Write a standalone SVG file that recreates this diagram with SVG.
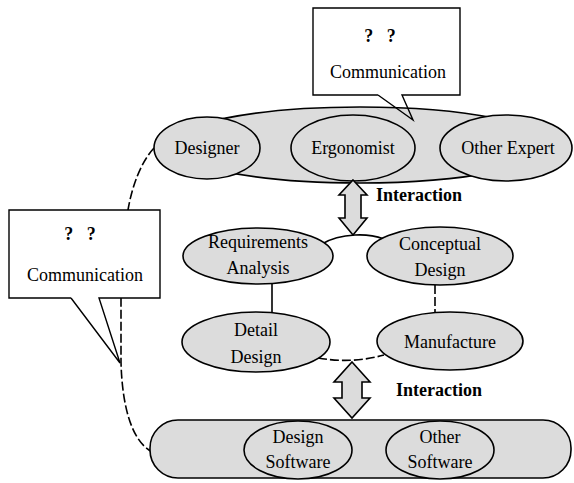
<svg xmlns="http://www.w3.org/2000/svg" width="574" height="483" viewBox="0 0 574 483">
  <style>
    .shape { fill: #dcdcdc; stroke: #000; stroke-width: 1.6; }
    .box { fill: #fff; stroke: none; }
    .outline { fill: none; stroke: #000; stroke-width: 1.4; }
    .link { fill: none; stroke: #000; stroke-width: 1.6; }
    .dash { fill: none; stroke: #000; stroke-width: 1.6; stroke-dasharray: 9 3; }
    text { font-family: "Liberation Serif", "Times New Roman", serif; font-size: 18px; fill: #000; text-anchor: middle; }
    .bold { font-weight: bold; }
    .q { font-weight: bold; word-spacing: 9px; }
  </style>

  <rect width="574" height="483" fill="#fff"/>

  <!-- connectors -->
  <g id="connectors">
    <!-- expert group to software group, passing through the left callout -->
    <path class="dash" d="M154,148 C141,162 132,186 128,210 L121,298 L121,362 C122,402 130,440 152,452"/>
    <!-- design loop -->
    <path class="link" d="M322,244 Q335,236 355,235 Q370,234 384,239"/>
    <path class="link" d="M272,284 L272,313"/>
    <path class="dash" d="M435,285 L435,312"/>
    <path class="dash" d="M318,358 Q352,364 384,355"/>
  </g>

  <!-- expert group -->
  <g id="expert-group">
    <ellipse class="shape" cx="360" cy="145" rx="190" ry="38"/>
    <g id="designer">
      <ellipse class="shape" cx="207" cy="148" rx="53" ry="31"/>
      <text x="207" y="154">Designer</text>
    </g>
    <g id="ergonomist">
      <ellipse class="shape" cx="353" cy="148" rx="62" ry="33"/>
      <text x="353" y="154">Ergonomist</text>
    </g>
    <g id="other-expert">
      <ellipse class="shape" cx="506" cy="148" rx="66" ry="33"/>
      <text x="508" y="154">Other Expert</text>
    </g>
  </g>

  <!-- top callout -->
  <g id="callout-top">
    <rect class="box" x="313" y="8" width="147" height="87"/>
    <path class="outline" d="M378,95 H313 V8 H460 V95 H402 L413,120 L378,95"/>
    <text class="q" x="380" y="42">? ?</text>
    <text x="388" y="78">Communication</text>
  </g>

  <!-- interaction arrow, experts to design loop -->
  <g id="interaction-upper">
    <path class="shape" d="M353,180 L367,195 L361,195 L361,218 L367,218 L353,235 L339,218 L345,218 L345,195 L339,195 Z"/>
    <text class="bold" x="419" y="201">Interaction</text>
  </g>

  <g id="requirements-analysis">
    <ellipse class="shape" cx="258" cy="256" rx="75" ry="28"/>
    <text x="258" y="248">Requirements</text>
    <text x="258" y="274">Analysis</text>
  </g>

  <g id="conceptual-design">
    <ellipse class="shape" cx="440" cy="256" rx="73" ry="29"/>
    <text x="440" y="250">Conceptual</text>
    <text x="440" y="276">Design</text>
  </g>

  <g id="detail-design">
    <ellipse class="shape" cx="256" cy="342" rx="74" ry="30"/>
    <text x="256" y="336">Detail</text>
    <text x="256" y="363">Design</text>
  </g>

  <g id="manufacture">
    <ellipse class="shape" cx="450" cy="341" rx="73" ry="29"/>
    <text x="450" y="348">Manufacture</text>
  </g>

  <!-- interaction arrow, design loop to software -->
  <g id="interaction-lower">
    <path class="shape" d="M352,362 L370,382 L362,382 L362,398 L370,398 L352,418 L334,398 L342,398 L342,382 L334,382 Z"/>
    <text class="bold" x="439" y="396">Interaction</text>
  </g>

  <!-- software group -->
  <g id="software-group">
    <rect class="shape" x="150" y="420" width="421" height="58" rx="28" ry="28"/>
    <g id="design-software">
      <ellipse class="shape" cx="298" cy="450" rx="54" ry="29"/>
      <text x="298" y="443">Design</text>
      <text x="298" y="468">Software</text>
    </g>
    <g id="other-software">
      <ellipse class="shape" cx="440" cy="450" rx="54" ry="29"/>
      <text x="440" y="443">Other</text>
      <text x="440" y="468">Software</text>
    </g>
  </g>

  <!-- left callout -->
  <g id="callout-left">
    <rect class="box" x="9" y="210" width="151" height="88"/>
    <path class="outline" d="M71,298 H9 V210 H160 V298 H99 L120,363 L71,298"/>
    <text class="q" x="80" y="240">? ?</text>
    <text x="85" y="281">Communication</text>
  </g>
</svg>
